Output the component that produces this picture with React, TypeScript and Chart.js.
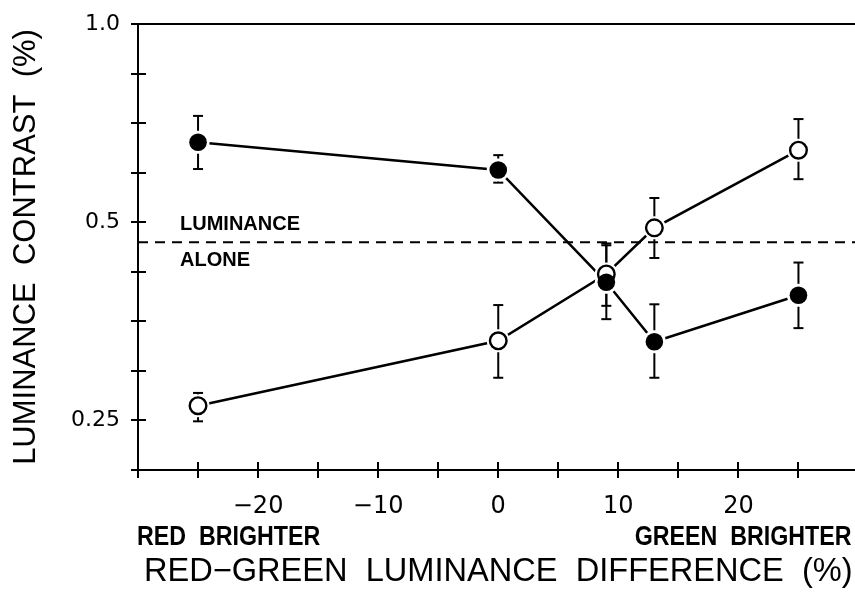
import React, { useEffect, useRef } from 'react';
import { Chart, registerables } from 'chart.js';

Chart.register(...registerables);

// ---- data ----
const xValues = [-25, 0, 9, 13, 25];

const filledY = [0.661, 0.6, 0.405, 0.329, 0.387];
const filledLo = [0.602, 0.574, 0.356, 0.29, 0.345];
const filledHi = [0.725, 0.632, 0.461, 0.375, 0.434];

const openY = [0.263, 0.33, 0.417, 0.49, 0.643];
const openLo = [0.249, 0.29, 0.373, 0.441, 0.581];
const openHi = [0.275, 0.374, 0.464, 0.544, 0.717];

const luminanceAlone = 0.466;

const yTickValues = [1.0, 0.8409, 0.7071, 0.5946, 0.5, 0.4204, 0.3536, 0.2973, 0.25, 0.2102];
const yTickLabels = ['1.0', '', '', '', '0.5', '', '', '', '0.25', ''];
const xLabelledTicks = [-20, -10, 0, 10, 20];
const xMin = -30;
const xMax = 30;
const xStep = 5;

const yTitle = 'LUMINANCE  CONTRAST  (%)';
const xTitle = 'RED\u2212GREEN  LUMINANCE  DIFFERENCE  (%)';
const leftNote = 'RED  BRIGHTER';
const rightNote = 'GREEN  BRIGHTER';
const aloneLabel1 = 'LUMINANCE';
const aloneLabel2 = 'ALONE';
const aloneLabelX = -26.5;

const FONT = '"Liberation Sans", Arial, Helvetica, sans-serif';
const TICKFONT = '"DejaVu Sans", "Liberation Sans", sans-serif';

const decorPlugin = {
  id: 'decor',
  beforeDatasetsDraw(chart: any) {
    const { ctx, chartArea, scales } = chart;
    const x = scales.x;
    const y = scales.y;
    ctx.save();
    ctx.strokeStyle = '#000';
    ctx.lineWidth = 2;
    const seg = (x1: number, y1: number, x2: number, y2: number) => {
      ctx.beginPath();
      ctx.moveTo(x1, y1);
      ctx.lineTo(x2, y2);
      ctx.stroke();
    };
    seg(chartArea.left - 1, chartArea.top, chartArea.right, chartArea.top);
    y.ticks.forEach((_t: any, i: number) => {
      const py = Math.round(y.getPixelForTick(i));
      seg(chartArea.left - 7, py, chartArea.left + 8, py);
    });
    x.ticks.forEach((_t: any, i: number) => {
      const px = Math.round(x.getPixelForTick(i));
      seg(px, chartArea.bottom - 8, px, chartArea.bottom + 8);
    });
    const bars = (lo: number[], hi: number[]) => {
      xValues.forEach((xv, i) => {
        const px = x.getPixelForValue(xv);
        const pLo = y.getPixelForValue(lo[i]);
        const pHi = y.getPixelForValue(hi[i]);
        seg(px, pLo, px, pHi);
        seg(px - 5, pLo, px + 5, pLo);
        seg(px - 5, pHi, px + 5, pHi);
      });
    };
    bars(filledLo, filledHi);
    bars(openLo, openHi);
    ctx.restore();
  },
  afterDraw(chart: any) {
    const { ctx, chartArea, scales } = chart;
    const x = scales.x;
    const y = scales.y;
    ctx.save();
    ctx.fillStyle = '#000';
    ctx.textBaseline = 'alphabetic';
    const py = y.getPixelForValue(luminanceAlone);
    ctx.font = `bold 20px ${FONT}`;
    ctx.textAlign = 'left';
    const lx = x.getPixelForValue(aloneLabelX);
    ctx.fillText(aloneLabel1, lx, py - 12);
    ctx.fillText(aloneLabel2, lx, py + 24);
    // condensed bold notes
    ctx.font = `bold 27px ${FONT}`;
    const sx = 0.86;
    const by = chartArea.bottom + 75;
    ctx.save();
    ctx.scale(sx, 1);
    ctx.textAlign = 'left';
    ctx.fillText(leftNote, (chartArea.left - 1) / sx, by);
    ctx.textAlign = 'right';
    ctx.fillText(rightNote, (x.getPixelForValue(xMax) - 7) / sx, by);
    ctx.restore();
    ctx.restore();
  },
};

export default function App() {
  const ref = useRef<HTMLCanvasElement | null>(null);

  useEffect(() => {
    const canvas = ref.current;
    if (!canvas) return;
    const filledPts = xValues.map((xv, i) => ({ x: xv, y: filledY[i] }));
    const openPts = xValues.map((xv, i) => ({ x: xv, y: openY[i] }));
    const chart = new Chart(canvas, {
      type: 'scatter',
      data: {
        datasets: [
          {
            label: 'luminance alone',
            data: [
              { x: xMin, y: luminanceAlone },
              { x: xMax, y: luminanceAlone },
            ],
            showLine: true,
            borderColor: '#000',
            borderWidth: 2,
            borderDash: [10, 7],
            pointRadius: 0,
            order: 10,
          },
          {
            label: 'filled line',
            data: filledPts,
            showLine: true,
            borderColor: '#000',
            borderWidth: 2.5,
            pointRadius: 0,
            order: 9,
          },
          {
            label: 'open line',
            data: openPts,
            showLine: true,
            borderColor: '#000',
            borderWidth: 2.5,
            pointRadius: 0,
            order: 8,
          },
          {
            label: 'filled halo',
            data: filledPts,
            showLine: false,
            pointRadius: 11.5,
            pointBackgroundColor: '#fff',
            pointBorderWidth: 0,
            pointBorderColor: '#fff',
            order: 7,
          },
          {
            label: 'open halo',
            data: openPts,
            showLine: false,
            pointRadius: 11.5,
            pointBackgroundColor: '#fff',
            pointBorderWidth: 0,
            pointBorderColor: '#fff',
            order: 6,
          },
          {
            label: 'open',
            data: openPts,
            showLine: false,
            pointRadius: 8.3,
            pointBackgroundColor: '#fff',
            pointBorderColor: '#000',
            pointBorderWidth: 2.4,
            order: 5,
          },
          {
            label: 'filled',
            data: filledPts,
            showLine: false,
            pointRadius: 8.8,
            pointBackgroundColor: '#000',
            pointBorderColor: '#000',
            pointBorderWidth: 0,
            order: 4,
          },
        ],
      },
      plugins: [decorPlugin],
      options: {
        responsive: false,
        animation: false,
        events: [],
        layout: { padding: { top: 24, right: 10, bottom: 0, left: 0 } },
        plugins: {
          legend: { display: false },
          tooltip: { enabled: false },
        },
        scales: {
          x: {
            type: 'linear',
            min: xMin,
            max: xMax,
            afterFit: (s: any) => {
              s.height = 142;
              s.paddingLeft = 0;
              s.paddingRight = 0;
            },
            ticks: {
              stepSize: xStep,
              autoSkip: false,
              maxRotation: 0,
              color: '#000',
              padding: 22,
              font: { family: TICKFONT, size: 24 },
              callback: (v: any) => {
                const n = Number(v);
                if (!xLabelledTicks.includes(n)) return '';
                return n < 0 ? '\u2212' + Math.abs(n) : String(n);
              },
            },
            grid: { display: false, drawTicks: false },
            border: { display: true, color: '#000', width: 2 },
            title: {
              display: true,
              text: xTitle,
              color: '#000',
              font: { family: FONT, size: 32.6 },
              padding: { top: 0, bottom: 20 },
            },
          },
          y: {
            type: 'logarithmic',
            min: yTickValues[yTickValues.length - 1],
            max: yTickValues[0],
            afterFit: (s: any) => {
              s.width = 138;
              s.paddingTop = 0;
              s.paddingBottom = 0;
            },
            afterBuildTicks: (s: any) => {
              s.ticks = yTickValues.map((v) => ({ value: v }));
            },
            ticks: {
              autoSkip: false,
              color: '#000',
              padding: 18,
              font: { family: TICKFONT, size: 22 },
              callback: (_v: any, i: number) => yTickLabels[i],
            },
            grid: { display: false, drawTicks: false },
            border: { display: true, color: '#000', width: 2 },
            title: {
              display: true,
              text: yTitle,
              color: '#000',
              font: { family: FONT, size: 31 },
              padding: { top: 8, bottom: 0 },
            },
          },
        },
      },
    } as any);
    return () => chart.destroy();
  }, []);

  return (
    <div
      style={{
        position: 'absolute',
        left: 0,
        top: 0,
        width: 855,
        height: 612,
        overflow: 'hidden',
        background: '#fff',
      }}
    >
      <canvas ref={ref} width={870} height={612} style={{ width: 870, height: 612, display: 'block' }} />
    </div>
  );
}
